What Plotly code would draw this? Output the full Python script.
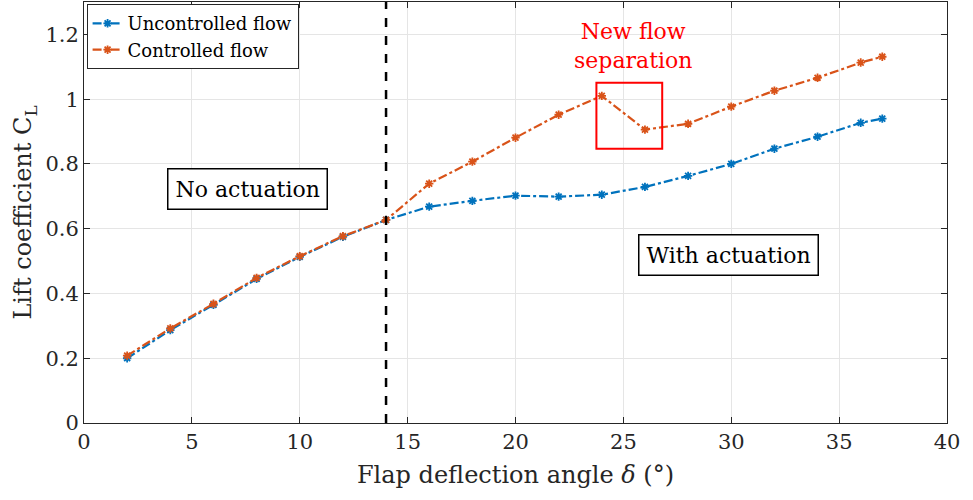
import plotly.graph_objects as go

angle = [2, 4, 6, 8, 10, 12, 14, 16, 18, 20, 22, 24, 26, 28, 30, 32, 34, 36, 37]
cl_uncontrolled = [0.200, 0.287, 0.365, 0.445, 0.513, 0.575, 0.627, 0.668, 0.686, 0.702,
                   0.699, 0.705, 0.729, 0.763, 0.800, 0.847, 0.884, 0.927, 0.940]
cl_controlled = [0.208, 0.292, 0.368, 0.448, 0.515, 0.577, 0.627, 0.739, 0.807, 0.881,
                 0.952, 1.010, 0.906, 0.924, 0.977, 1.026, 1.066, 1.113, 1.131]
actuation_angle = 14
x_ticks = [0, 5, 10, 15, 20, 25, 30, 35, 40]
y_ticks = [0, 0.2, 0.4, 0.6, 0.8, 1, 1.2]
y_tick_text = ["0", "0.2", "0.4", "0.6", "0.8", "1", "1.2"]
sep_box_x = [23.75, 26.8]
sep_box_y = [0.847, 1.051]

FONT = "DejaVu Serif"
BLUE = "#0072BD"
ORANGE = "#D95319"

fig = go.Figure()
fig.add_trace(go.Scatter(
    x=angle, y=cl_uncontrolled, name="Uncontrolled flow", mode="lines+markers",
    line=dict(color=BLUE, width=2.2, dash="dashdot"),
    marker=dict(symbol="asterisk-open", size=7, line=dict(color=BLUE, width=1.8), color=BLUE)))
fig.add_trace(go.Scatter(
    x=angle, y=cl_controlled, name="Controlled flow", mode="lines+markers",
    line=dict(color=ORANGE, width=2.2, dash="dashdot"),
    marker=dict(symbol="asterisk-open", size=7, line=dict(color=ORANGE, width=1.8), color=ORANGE)))

fig.add_shape(type="line", x0=actuation_angle, x1=actuation_angle, y0=0, y1=1.3,
              xref="x", yref="y", line=dict(color="black", width=2.5, dash="dash"), layer="above")
fig.add_shape(type="rect", x0=sep_box_x[0], x1=sep_box_x[1], y0=sep_box_y[0], y1=sep_box_y[1],
              xref="x", yref="y", line=dict(color="red", width=2))

fig.add_annotation(x=7.6, y=0.723, text="No actuation", showarrow=False,
                   font=dict(family=FONT, size=22, color="black"),
                   bordercolor="black", borderwidth=1.5, borderpad=7, bgcolor="white")
fig.add_annotation(x=29.85, y=0.52, text="With actuation", showarrow=False,
                   font=dict(family=FONT, size=22, color="black"),
                   bordercolor="black", borderwidth=1.5, borderpad=7, bgcolor="white")
fig.add_annotation(x=25.45, y=1.165, text="New flow<br>separation", showarrow=False,
                   font=dict(family=FONT, size=22, color="red"))

axis_common = dict(showline=True, linecolor="#262626", linewidth=1, mirror="allticks",
                   ticks="inside", ticklen=6, tickcolor="#262626",
                   showgrid=True, gridcolor="#e5e5e5", gridwidth=1, zeroline=False,
                   tickfont=dict(family=FONT, size=21, color="#262626"))

fig.update_layout(
    width=973, height=500,
    margin=dict(l=84, r=26, t=2, b=77),
    paper_bgcolor="white", plot_bgcolor="white",
    font=dict(family=FONT, color="#262626"),
    xaxis=dict(range=[0, 40], tickvals=x_ticks,
               title=dict(text="Flap deflection angle <i>δ</i> (°)", font=dict(family=FONT, size=24), standoff=12),
               **axis_common),
    yaxis=dict(range=[0, 1.3], tickvals=y_ticks, ticktext=y_tick_text,
               title=dict(text="Lift coefficient C<sub>L</sub>", font=dict(family=FONT, size=24), standoff=6),
               **axis_common),
    legend=dict(x=0.003, y=0.995, xanchor="left", yanchor="top",
                bordercolor="#262626", borderwidth=1, bgcolor="white",
                font=dict(family=FONT, size=18, color="black"),
                tracegroupgap=0, itemwidth=30),
    showlegend=True,
)

fig.write_html("out.html")
